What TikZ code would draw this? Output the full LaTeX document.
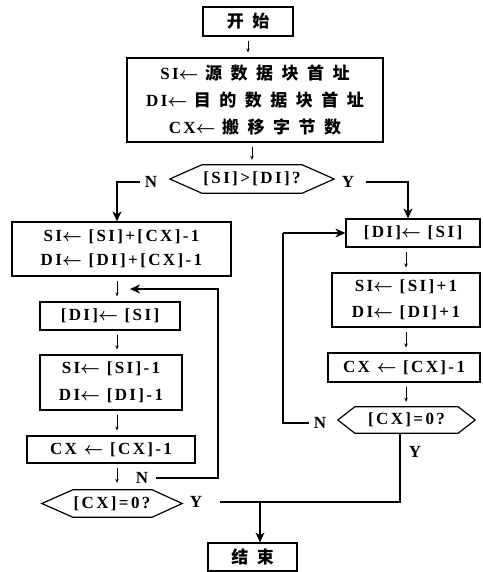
\documentclass[tikz,border=0pt]{standalone}
\usepackage{fontspec}
\setmainfont{Liberation Serif}[LetterSpace=14]
\newfontfamily\cjk{Noto Sans CJK SC}[LetterSpace=50]
\usetikzlibrary{arrows.meta}
\newcommand{\la}{$\boldsymbol{\leftarrow}$}
\usepackage{amsmath}
\tikzset{
  every node/.style={font=\fontsize{17}{26}\selectfont\bfseries},
  box/.style={draw, line width=1.2pt, inner sep=0pt, align=center},
  hexn/.style={inner sep=0pt, align=center},
  lbl/.style={inner sep=0pt},
  ln/.style={line width=1.2pt},
  small/.style={-{Stealth[length=4pt,width=3.5pt]}, line width=1pt, shorten <=4pt, shorten >=5pt},
  big/.style={-{Stealth[length=10pt,width=9pt,inset=3pt]}, line width=1.2pt}
}
\begin{document}
\begin{tikzpicture}[x=1pt,y=-1pt]
\useasboundingbox (0,0) rectangle (482,572);
% columns
\coordinate (colL) at (117,0);
\coordinate (colY) at (408,0);
\coordinate (colR) at (406,0);
\coordinate (colV) at (400,0);
\coordinate (loopx) at (218,0);
\coordinate (loopRx) at (283,0);
\coordinate (loopL) at (130,289);
\coordinate (join) at (260,502);
% nodes
\node[box, minimum width=90, minimum height=29] (start) at (248,21.5) {\cjk 开始};
\node[box, minimum width=256, minimum height=84, font=\fontsize{17}{27}\selectfont\bfseries] (init) at (255,100)
  {SI\la\ {\cjk 源数据块首址}\\DI\la\ {\cjk 目的数据块首址}\\CX\la\ {\cjk 搬移字节数}};
\node[hexn, minimum width=164, minimum height=28] (h1) at (252,179) {[SI]>[DI]?};
\node[lbl] (N1) at (151,182) {N};
\node[lbl] (Y1) at (348,182) {Y};
% left column
\node[box, minimum width=219, minimum height=54, font=\fontsize{17}{24}\selectfont\bfseries] (L1) at (121.5,249)
  {SI\la\ [SI]+[CX]-1\\DI\la\ [DI]+[CX]-1};
\node[box, minimum width=140, minimum height=28] (L2) at (110,316) {[DI]\la\ [SI]};
\node[box, minimum width=142, minimum height=55, font=\fontsize{17}{27}\selectfont\bfseries] (L3) at (111,382.5)
  {SI\la\ [SI]-1\\DI\la\ [DI]-1};
\node[box, minimum width=168, minimum height=27] (L4) at (111,449.5) {CX \la\ [CX]-1};
\node[lbl] (N2) at (142,478) {N};
\node[hexn, minimum width=140, minimum height=27] (h2) at (112,503.5) {[CX]=0?};
\node[lbl] (Y2) at (196,502) {Y};
% right column
\node[box, minimum width=134, minimum height=28] (R1) at (413,233) {[DI]\la\ [SI]};
\node[box, minimum width=148, minimum height=54, font=\fontsize{17}{26}\selectfont\bfseries] (R2) at (406,300)
  {SI\la\ [SI]+1\\DI\la\ [DI]+1};
\node[box, minimum width=152, minimum height=29] (R3) at (404,367.5) {CX \la\ [CX]-1};
\node[hexn, minimum width=137, minimum height=26] (h3) at (406.5,420) {[CX]=0?};
\node[lbl] (N3) at (320,423) {N};
\node[lbl] (Y3) at (415,452) {Y};
% end
\node[box, minimum width=89, minimum height=28] (end) at (252.5,557) {\cjk 结束};
% hexagon outlines
\draw[ln] (h1.west) -- ([xshift=32pt]h1.north west) -- ([xshift=-32pt]h1.north east) -- (h1.east)
  -- ([xshift=-32pt]h1.south east) -- ([xshift=32pt]h1.south west) -- cycle;
\draw[ln] (h2.west) -- ([xshift=31pt]h2.north west) -- ([xshift=-30pt]h2.north east) -- (h2.east)
  -- ([xshift=-30pt]h2.south east) -- ([xshift=31pt]h2.south west) -- cycle;
\draw[ln] (h3.west) -- ([xshift=17pt]h3.north west) -- ([xshift=-17pt]h3.north east) -- (h3.east)
  -- ([xshift=-17pt]h3.south east) -- ([xshift=17pt]h3.south west) -- cycle;
% connectors
\draw[small] (start.south) -- (start.south |- init.north);
\draw[small] (init.south -| h1.north) -- (h1.north);
\draw[big] ([xshift=-5pt]N1.west) -| (L1.north -| colL);
\draw[big] ([xshift=12pt]Y1.east) -| (R1.north -| colY);
\draw[small] (L1.south -| colL) -- (L2.north -| colL);
\draw[small] (L2.south -| colL) -- (L3.north -| colL);
\draw[small] (L3.south -| colL) -- (L4.north -| colL);
\draw[small, shorten >=7pt] (L4.south -| colL) -- (h2.north -| colL);
\draw[big] ([xshift=8pt]N2.east) -- (N2.east -| loopx) |- (loopL);
\draw[small] (R1.south -| colR) -- (R2.north -| colR);
\draw[small] (R2.south -| colR) -- (R3.north -| colR);
\draw[small] (R3.south -| colR) -- (h3.north -| colR);
\draw[ln] ([xshift=-5pt]N3.west) -| (loopRx |- R1.west);
\draw[big] (loopRx |- R1.west) -- (R1.west);
\draw[ln] (h3.south -| colV) |- (join);
\draw[ln] ([xshift=18pt]Y2.east) -- (join);
\draw[big] (join) -- (join |- end.north);
\end{tikzpicture}
\end{document}
